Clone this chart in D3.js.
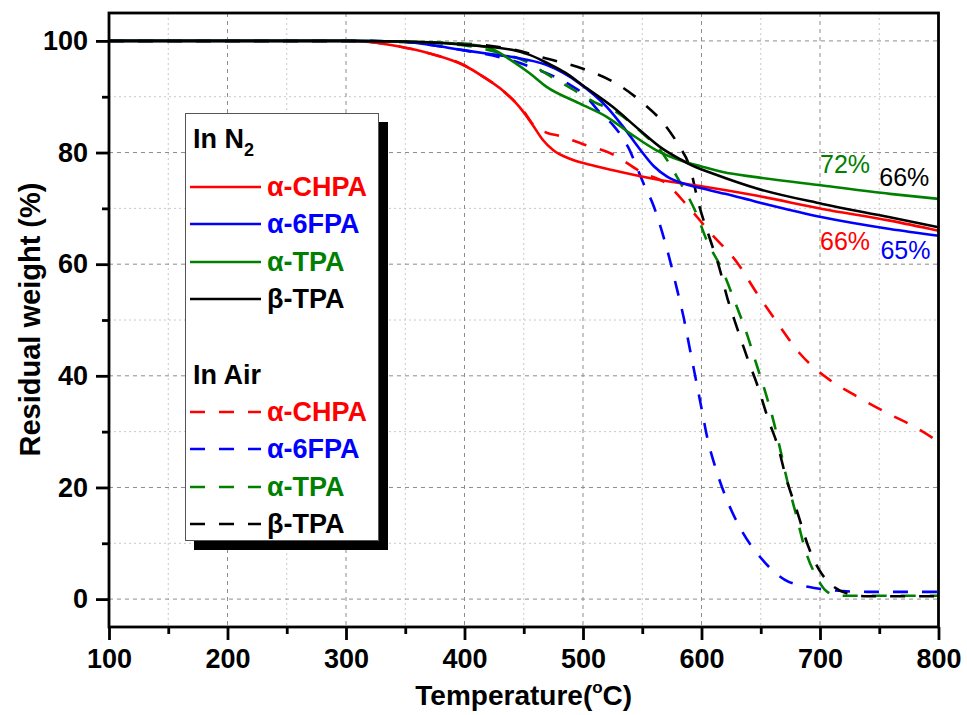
<!DOCTYPE html>
<html>
<head>
<meta charset="utf-8">
<script src="https://cdn.jsdelivr.net/npm/d3@7"></script>
<style>
  body { margin: 0; background: #fff; }
  text { font-family: Arial, "Liberation Sans", sans-serif; }
</style>
</head>
<body>
<div class="chart"></div>
<script>
// [temperature, residual weight] pairs
const n2CHPA = [[100,100],[300,100],[320,99.8],[345,99],[370,97.8],[400,95.6],[415,93.7],[430,91.5],[442,89.2],[450,87.2],[458,84.8],[466,82.3],[475,80.4],[490,78.8],[510,77.6],[530,76.6],[567,75],[596,74.1],[646,72.3],[702,69.9],[759,67.8],[800,66]];
const n26FPA = [[100,100],[300,100],[345,99.9],[370,99.3],[400,98.3],[420,97.7],[441,97.1],[469,95.7],[497,92.4],[520,88.2],[534,84.6],[548,80.6],[560,77.5],[571,75.7],[584,74.5],[600,73.6],[620,72.6],[646,71.2],[702,68.4],[759,66.3],[800,65.1]];
const n2TPA = [[100,100],[300,100],[350,99.9],[400,99.4],[420,98.8],[441,96.3],[455,94.2],[469,91.8],[497,88.8],[520,86.4],[540,83.4],[562,80.4],[582,78.6],[600,77.5],[618,76.5],[646,75.6],[702,74.1],[759,72.6],[800,71.7]];
const n2BTPA = [[100,100],[300,100],[350,99.9],[400,99.3],[440,98.4],[455,97.5],[470,96],[485,94.3],[500,92],[525,88.2],[548,84],[567,80.7],[582,78.8],[595,77.4],[610,76.2],[646,73.6],[702,70.8],[759,68.4],[800,66.6]];

const airCHPA = [[100,100],[300,100],[320,99.8],[345,99],[370,97.8],[400,95.6],[415,93.7],[430,91.5],[442,89.2],[450,87.4],[458,85],[470,83.5],[480,83],[500,81.5],[525,79.7],[550,76.4],[570,74.5],[588,70.5],[608,65.5],[630,60.3],[647,54.7],[664,49.5],[683,44],[706,39.6],[732,36.2],[757,33.3],[782,30.6],[800,28.2]];
const air6FPA = [[100,100],[300,100],[345,99.9],[370,99.3],[400,98.3],[440,96.5],[460,95],[475,93.7],[490,92],[500,90.6],[515,87],[525,85],[538,81],[551,74.5],[560,70.2],[565,67],[573,61],[579,55.8],[585,50.4],[590,45],[595,39.6],[600,34.2],[605,28.8],[612,23.4],[621,18],[633,12.6],[650,7.4],[670,3.5],[690,2.2],[710,1.6],[740,1.3],[800,1.3]];
const airTPA = [[100,100],[300,100],[350,99.8],[400,99.2],[430,97.8],[450,96.5],[470,94],[490,91.5],[510,89],[528,87.3],[550,83.5],[566,80.2],[581,75],[595,69.4],[605,64],[617,59.2],[629,52.8],[638,47.7],[646,42.3],[654,37],[661,31.7],[667,26.3],[672,21.5],[680,15],[688,8.5],[697,4],[705,1.5],[715,0.6],[800,0.6]];
const airBTPA = [[100,100],[300,100],[350,99.8],[400,99.5],[440,98.5],[470,96.8],[500,95],[527,92.5],[552,88.6],[567,85.5],[581,81.2],[590,77.5],[598,70.5],[607,64.6],[615,59.4],[622,53.8],[630,48.6],[639,43],[648,37.8],[656,32.4],[665,27],[671,22],[681,15.5],[690,9.5],[700,5],[710,2.5],[725,0.9],[740,0.5],[800,0.5]];

const names = ["α-CHPA", "α-6FPA", "α-TPA", "β-TPA"];
const colors = ["#ff0000", "#0000ff", "#008000", "#000000"];
const n2Series = [n2CHPA, n26FPA, n2TPA, n2BTPA];
const airSeries = [airCHPA, air6FPA, airTPA, airBTPA];

const xTicks = [100, 200, 300, 400, 500, 600, 700, 800];
const xMinor = [150, 250, 350, 450, 550, 650, 750];
const yTicks = [0, 20, 40, 60, 80, 100];
const yMinor = [10, 30, 50, 70, 90];

const residues = [
  {label: "72%", color: "#008000", t: 700, v: 76.3},
  {label: "66%", color: "#000000", t: 750, v: 74.0},
  {label: "66%", color: "#ff0000", t: 700, v: 62.5},
  {label: "65%", color: "#0000ff", t: 751, v: 61.0}
];

const totalWidth = 967, totalHeight = 715;
const margin = {top: 13, right: 28, bottom: 88, left: 109};

const x = d3.scaleLinear().domain([100, 800]).range([margin.left, totalWidth - margin.right - 0.5]);
const y = d3.scaleLinear().domain([-5, 105]).range([totalHeight - margin.bottom, margin.top]);

const svg = d3.select('.chart').append('svg')
  .attr('width', totalWidth).attr('height', totalHeight);

// grid: minor dotted, major dashed
const grid = svg.append('g');
grid.selectAll('.vminor').data(xMinor).join('line')
  .attr('x1', d => x(d)).attr('x2', d => x(d))
  .attr('y1', y(105)).attr('y2', y(-5))
  .attr('stroke', '#c8c8c8').attr('stroke-width', 1).attr('stroke-dasharray', '2,3');
grid.selectAll('.hminor').data(yMinor).join('line')
  .attr('y1', d => y(d)).attr('y2', d => y(d))
  .attr('x1', x(100)).attr('x2', x(800))
  .attr('stroke', '#c8c8c8').attr('stroke-width', 1).attr('stroke-dasharray', '2,3');
grid.selectAll('.vmajor').data(xTicks.slice(1, -1)).join('line')
  .attr('x1', d => x(d)).attr('x2', d => x(d))
  .attr('y1', y(105)).attr('y2', y(-5))
  .attr('stroke', '#8c8c8c').attr('stroke-width', 1).attr('stroke-dasharray', '4,4');
grid.selectAll('.hmajor').data(yTicks).join('line')
  .attr('y1', d => y(d)).attr('y2', d => y(d))
  .attr('x1', x(100)).attr('x2', x(800))
  .attr('stroke', '#8c8c8c').attr('stroke-width', 1).attr('stroke-dasharray', '4,4');

const line = d3.line()
  .x(d => x(d[0]))
  .y(d => y(d[1]))
  .curve(d3.curveMonotoneX);

// air (dashed) first, N2 (solid) on top
svg.append('g').selectAll('path')
  .data(airSeries)
  .join('path')
    .attr('fill', 'none')
    .attr('stroke', (d, i) => colors[i])
    .attr('stroke-width', 2.6)
    .attr('stroke-dasharray', '15,14')
    .attr('d', line);

svg.append('g').selectAll('path')
  .data(n2Series)
  .join('path')
    .attr('fill', 'none')
    .attr('stroke', (d, i) => colors[i])
    .attr('stroke-width', 2.6)
    .attr('d', line);

// residue labels
svg.append('g').selectAll('text')
  .data(residues)
  .join('text')
    .attr('x', d => x(d.t))
    .attr('y', d => y(d.v))
    .attr('fill', d => d.color)
    .attr('font-size', '25px')
    .text(d => d.label);

// legend
const legend = svg.append('g');
legend.append('rect')
  .attr('x', 194).attr('y', 122).attr('width', 194).attr('height', 428)
  .attr('fill', '#000');
legend.append('rect')
  .attr('x', 185.5).attr('y', 113.5).attr('width', 193).attr('height', 427)
  .attr('fill', '#fff').attr('stroke', '#555').attr('stroke-width', 1);

const n2Title = legend.append('text')
  .attr('x', 193).attr('y', 148)
  .attr('font-size', '27px').attr('font-weight', 'bold');
n2Title.append('tspan').text('In N');
n2Title.append('tspan').attr('font-size', '18px').attr('dy', 8).text('2');

legend.append('text')
  .attr('x', 193).attr('y', 384)
  .attr('font-size', '27px').attr('font-weight', 'bold')
  .text('In Air');

const rowsN2 = [187, 224, 262, 299];
const rowsAir = [412, 449, 487, 524];

function legendRows(rows, dashed) {
  const g = legend.append('g');
  g.selectAll('line').data(names).join('line')
    .attr('x1', 190).attr('x2', 261)
    .attr('y1', (d, i) => rows[i]).attr('y2', (d, i) => rows[i])
    .attr('stroke', (d, i) => colors[i])
    .attr('stroke-width', 2.6)
    .attr('stroke-dasharray', dashed ? '15,14' : null);
  g.selectAll('text').data(names).join('text')
    .attr('x', 267)
    .attr('y', (d, i) => rows[i] + 9)
    .attr('fill', (d, i) => colors[i])
    .attr('font-size', '27px').attr('font-weight', 'bold')
    .text(d => d);
}
legendRows(rowsN2, false);
legendRows(rowsAir, true);

// frame
svg.append('rect')
  .attr('x', x(100)).attr('y', y(105))
  .attr('width', x(800) - x(100)).attr('height', y(-5) - y(105))
  .attr('fill', 'none').attr('stroke', '#000').attr('stroke-width', 2.8);

// axes
svg.append('g').attr('transform', `translate(0,${y(-5)})`)
  .call(d3.axisBottom(x).tickValues(xTicks).tickFormat(d3.format('d')).tickSize(13).tickPadding(9));
svg.append('g').attr('transform', `translate(0,${y(-5)})`)
  .call(d3.axisBottom(x).tickValues(xMinor).tickFormat('').tickSize(7));

svg.append('g').attr('transform', `translate(${x(100)},0)`)
  .call(d3.axisLeft(y).tickValues(yTicks).tickSize(13).tickPadding(8));
svg.append('g').attr('transform', `translate(${x(100)},0)`)
  .call(d3.axisLeft(y).tickValues(yMinor).tickFormat('').tickSize(7));

svg.selectAll('.domain').remove();
svg.selectAll('.tick line').attr('stroke', '#000').attr('stroke-width', 2.8);
svg.selectAll('.tick text')
  .attr('fill', '#000')
  .attr('font-size', '27px')
  .attr('font-weight', 'bold')
  .attr('font-family', 'Arial, "Liberation Sans", sans-serif');

// axis titles
const xTitle = svg.append('text')
  .attr('x', (x(100) + x(800)) / 2)
  .attr('y', 705)
  .attr('text-anchor', 'middle')
  .attr('font-size', '28px').attr('font-weight', 'bold');
xTitle.append('tspan').text('Temperature(');
xTitle.append('tspan').attr('font-size', '17px').attr('dy', -12).text('o');
xTitle.append('tspan').attr('dy', 12).text('C)');

svg.append('text')
  .attr('transform', `translate(40,${(177 + 462) / 2}) rotate(-90)`)
  .attr('text-anchor', 'middle')
  .attr('font-size', '29px').attr('font-weight', 'bold')
  .text('Residual weight (%)');
</script>
</body>
</html>
